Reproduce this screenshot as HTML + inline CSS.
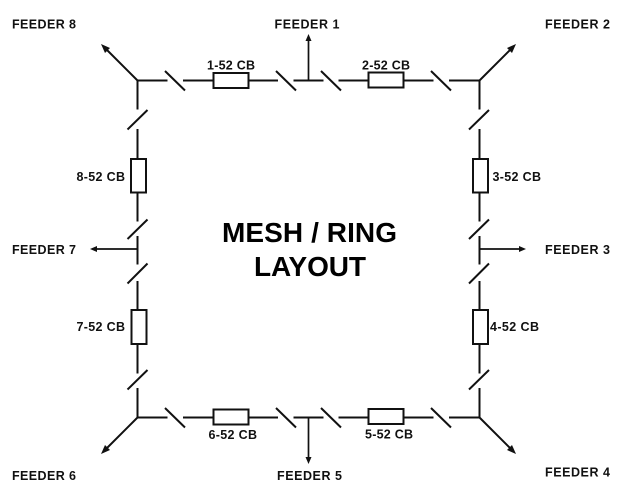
<!DOCTYPE html>
<html>
<head>
<meta charset="utf-8">
<style>
html,body{margin:0;padding:0;background:#fff;}
svg{display:block;}
text{font-family:"Liberation Sans",Arial,sans-serif;font-weight:bold;fill:#111;}
.l{font-size:12.5px;}
.t{font-size:28px;fill:#000;}
.w{stroke:#111;stroke-width:2;fill:none;}
.r{stroke:#111;stroke-width:2;fill:#fff;}
.a{fill:#111;stroke:none;}
</style>
</head>
<body>
<svg width="638" height="493" viewBox="0 0 638 493" xmlns="http://www.w3.org/2000/svg">
<rect width="638" height="493" fill="#fff"/>
<!-- Top bus -->
<path class="w" d="M137.5 80.5H167.5M183 80.5H278M293.5 80.5H323.5M338.5 80.5H433.5M449 80.5H480"/>
<path class="w" d="M165 71L185 90.5M276 71L296 90.5M321 71L341 90.5M431 71L451 90.5"/>
<rect class="r" x="213.5" y="73" width="35" height="15"/>
<rect class="r" x="368.5" y="72.5" width="35" height="15"/>
<!-- Bottom bus -->
<path class="w" d="M137.5 417.5H167.5M183 417.5H278M293.5 417.5H323.5M338.5 417.5H433.5M449 417.5H480"/>
<path class="w" d="M165 408L185 427.5M276 408L296 427.5M321 408L341 427.5M431 408L451 427.5"/>
<rect class="r" x="213.5" y="409.5" width="35" height="15"/>
<rect class="r" x="368.5" y="409" width="35" height="15"/>
<!-- Left bus -->
<path class="w" d="M137.5 80.5V109.5M137.5 129V221.5M137.5 236V264.5M137.5 281V373.5M137.5 388V418"/>
<path class="w" d="M127.5 129.5L147.5 110M127.5 239L147.5 219.5M127.5 283.5L147.5 263.5M127.5 389.5L147.5 370"/>
<rect class="r" x="131" y="159" width="15" height="33.5"/>
<rect class="r" x="131.5" y="310" width="15" height="34"/>
<!-- Right bus -->
<path class="w" d="M479.5 80.5V109.5M479.5 129V221.5M479.5 236V264.5M479.5 281V373.5M479.5 388V418"/>
<path class="w" d="M469 129.5L489 110M469 239L489 219.5M469 283.5L489 263.5M469 389.5L489 370"/>
<rect class="r" x="473" y="159" width="15" height="33.5"/>
<rect class="r" x="473" y="310" width="15" height="34"/>
<!-- Feeders -->
<path class="w" d="M137.5 80.5L105 48M479.5 80.5L512 48M137.5 417.5L105 450M479.5 417.5L512 450"/>
<path class="w" style="stroke-width:1.7" d="M308.5 80.5V40M308.5 417.5V458M137.5 249H95M479.5 249H521"/>
<polygon class="a" points="101,44 110,48 105,53"/>
<polygon class="a" points="516,44 507,48 512,53"/>
<polygon class="a" points="101,454 105,445 110,450"/>
<polygon class="a" points="516,454 507,450 512,445"/>
<polygon class="a" points="308.5,34 305.5,41 311.5,41"/>
<polygon class="a" points="308.5,464 305.5,457 311.5,457"/>
<polygon class="a" points="90,249 97,246 97,252"/>
<polygon class="a" points="526,249 519,246 519,252"/>
<!-- Feeder labels -->
<text class="l" x="12" y="28.5" textLength="64" lengthAdjust="spacing">FEEDER 8</text>
<text class="l" x="274.5" y="28.5" textLength="65" lengthAdjust="spacing">FEEDER 1</text>
<text class="l" x="545" y="28.5" textLength="65" lengthAdjust="spacing">FEEDER 2</text>
<text class="l" x="12" y="254" textLength="64" lengthAdjust="spacing">FEEDER 7</text>
<text class="l" x="545" y="254" textLength="65" lengthAdjust="spacing">FEEDER 3</text>
<text class="l" x="12" y="480" textLength="64" lengthAdjust="spacing">FEEDER 6</text>
<text class="l" x="277" y="480" textLength="65" lengthAdjust="spacing">FEEDER 5</text>
<text class="l" x="545" y="476.5" textLength="65" lengthAdjust="spacing">FEEDER 4</text>
<!-- CB labels -->
<text class="l" x="207" y="69.5" textLength="48" lengthAdjust="spacing">1-52 CB</text>
<text class="l" x="362" y="69.5" textLength="48" lengthAdjust="spacing">2-52 CB</text>
<text class="l" x="492.5" y="181" textLength="48.5" lengthAdjust="spacing">3-52 CB</text>
<text class="l" x="490" y="331" textLength="49" lengthAdjust="spacing">4-52 CB</text>
<text class="l" x="365" y="438.5" textLength="48" lengthAdjust="spacing">5-52 CB</text>
<text class="l" x="208.5" y="439" textLength="48.5" lengthAdjust="spacing">6-52 CB</text>
<text class="l" x="76.5" y="331" textLength="48.5" lengthAdjust="spacing">7-52 CB</text>
<text class="l" x="76.5" y="181" textLength="48.5" lengthAdjust="spacing">8-52 CB</text>
<!-- Title -->
<text class="t" x="222" y="242" textLength="175" lengthAdjust="spacing">MESH / RING</text>
<text class="t" x="254" y="276" textLength="112" lengthAdjust="spacing">LAYOUT</text>
</svg>
</body>
</html>
